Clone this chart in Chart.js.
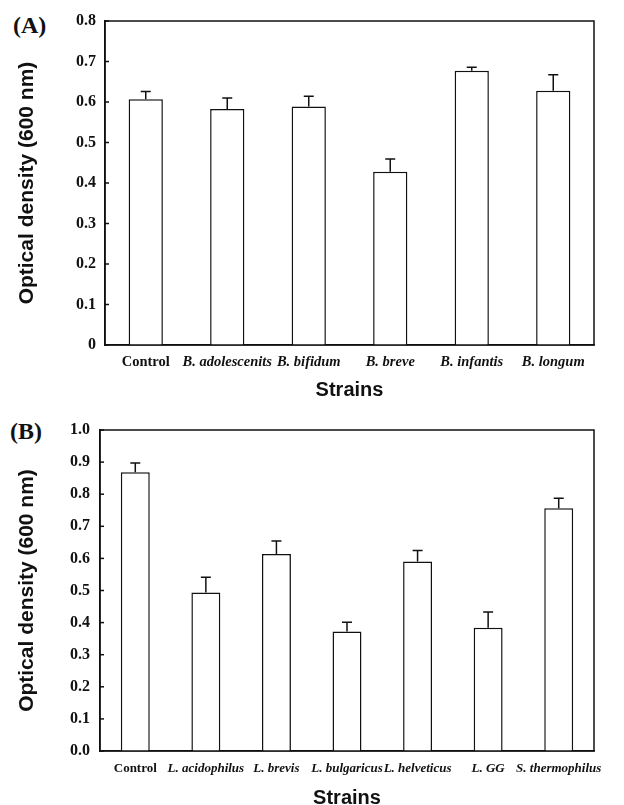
<!DOCTYPE html>
<html>
<head>
<meta charset="utf-8">
<script src="https://cdn.jsdelivr.net/npm/chart.js@4"></script>
<style>
  body { margin: 0; background: #fff; overflow: hidden; width: 624px; height: 805px; position: relative; }
  .panel { position: absolute; left: 0; width: 624px; }
  .tag { position: absolute; font: bold 24px "Liberation Serif", serif; line-height: 1; color: #111; }
</style>
</head>
<body>
<div class="tag" style="left:13px; top:13px;">(A)</div>
<div class="tag" style="left:10px; top:419px;">(B)</div>
<div class="panel" style="top:0; height:400px;"><canvas id="chartA"></canvas></div>
<div class="panel" style="top:400px; height:410px;"><canvas id="chartB"></canvas></div>
<script>
// Panel A - Bifidobacterium
const strainsA = ['Control', 'B. adolescenits', 'B. bifidum', 'B. breve', 'B. infantis', 'B. longum'];
const densityA = [0.607, 0.583, 0.589, 0.428, 0.677, 0.628];
const errorA = [0.019, 0.027, 0.025, 0.031, 0.009, 0.039];
const yTicksA = ['0', '0.1', '0.2', '0.3', '0.4', '0.5', '0.6', '0.7', '0.8'];

// Panel B - Lactobacillus / Streptococcus
const strainsB = ['Control', 'L. acidophilus', 'L. brevis', 'L. bulgaricus', 'L. helveticus', 'L. GG', 'S. thermophilus'];
const densityB = [0.868, 0.494, 0.614, 0.372, 0.590, 0.384, 0.756];
const errorB = [0.029, 0.047, 0.040, 0.029, 0.035, 0.049, 0.031];
const yTicksB = ['0.0', '0.1', '0.2', '0.3', '0.4', '0.5', '0.6', '0.7', '0.8', '0.9', '1.0'];

const INK = '#111';

// garis error (hanya ke atas) + bingkai + tick ke dalam
const extras = {
    id: 'extras',
    afterDatasetsDraw(chart) {
        const ctx = chart.ctx;
        const ds = chart.data.datasets[0];
        const meta = chart.getDatasetMeta(0);
        const y = chart.scales.y;
        const area = chart.chartArea;
        ctx.save();
        ctx.strokeStyle = INK;
        ctx.lineWidth = 1.5;
        meta.data.forEach((bar, i) => {
            const top = y.getPixelForValue(ds.data[i] + ds.errors[i]);
            ctx.beginPath();
            ctx.moveTo(bar.x, bar.y);
            ctx.lineTo(bar.x, top);
            ctx.moveTo(bar.x - 5, top);
            ctx.lineTo(bar.x + 5, top);
            ctx.stroke();
        });
        ctx.strokeRect(area.left, area.top, area.right - area.left, area.bottom - area.top);
        y.ticks.forEach(t => {
            const py = y.getPixelForValue(t.value);
            ctx.beginPath();
            ctx.moveTo(area.left, py);
            ctx.lineTo(area.left + 4, py);
            ctx.stroke();
        });
        ctx.restore();
    }
};

function makeChart(id, labels, values, errors, yTicks, opt) {
    const ctx = document.getElementById(id).getContext('2d');
    return new Chart(ctx, {
        type: 'bar',
        data: {
            labels: labels,
            datasets: [{
                data: values,
                errors: errors,
                backgroundColor: '#fff',
                borderColor: INK,
                borderWidth: 1.5,
                categoryPercentage: 1,
                barPercentage: opt.barPct
            }]
        },
        options: {
            responsive: true,
            maintainAspectRatio: false,
            animation: false,
            layout: { padding: { top: opt.top, right: 30, left: 0, bottom: 0 } },
            plugins: { legend: { display: false }, tooltip: { enabled: false } },
            scales: {
                x: {
                    grid: { display: false, drawTicks: false },
                    border: { display: true, color: INK, width: 1.5 },
                    afterFit: s => { s.height = opt.xHeight; },
                    ticks: {
                        autoSkip: false,
                        maxRotation: 0,
                        padding: opt.xPad,
                        color: INK,
                        font: c => ({
                            family: 'Liberation Serif',
                            size: opt.xFont,
                            weight: 'bold',
                            style: c.index === 0 ? 'normal' : 'italic'
                        })
                    },
                    title: {
                        display: true,
                        text: 'Strains',
                        color: INK,
                        font: { family: 'Liberation Sans', size: 20, weight: 'bold', lineHeight: 1 },
                        padding: { top: 0, bottom: opt.titleBottom }
                    }
                },
                y: {
                    min: 0,
                    max: opt.max,
                    grid: { display: false, drawTicks: false },
                    border: { display: true, color: INK, width: 1.5 },
                    afterFit: s => { s.width = opt.yWidth; },
                    ticks: {
                        stepSize: 0.1,
                        padding: opt.yPad,
                        color: INK,
                        font: { family: 'Liberation Serif', size: 16, weight: 'bold' },
                        callback: (v, i) => yTicks[i]
                    },
                    title: {
                        display: true,
                        text: 'Optical density (600 nm)',
                        color: INK,
                        font: { family: 'Liberation Sans', size: 21, weight: 'bold', lineHeight: 1 },
                        padding: { top: 17, bottom: 0 }
                    }
                }
            }
        },
        plugins: [extras]
    });
}

makeChart('chartA', strainsA, densityA, errorA, yTicksA, {
    top: 21, max: 0.8, barPct: 0.42, xHeight: 55, xPad: 9, xFont: 14.5, titleBottom: 0, yWidth: 105, yPad: 9
});
makeChart('chartB', strainsB, densityB, errorB, yTicksB, {
    top: 30, max: 1.0, barPct: 0.41, xHeight: 59, xPad: 10, xFont: 13, titleBottom: 2, yWidth: 100, yPad: 10
});
</script>
</body>
</html>
